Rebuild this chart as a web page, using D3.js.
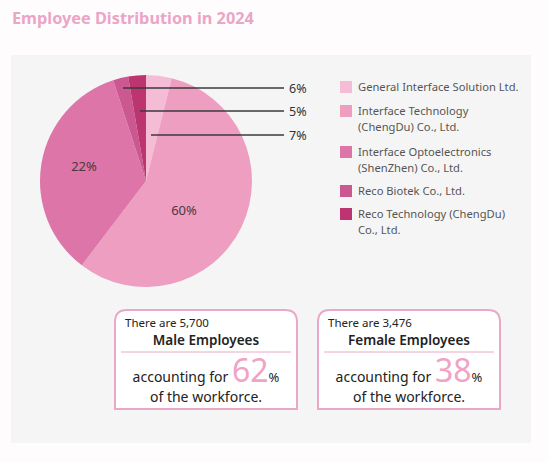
<!DOCTYPE html>
<html><head><meta charset="utf-8">
<script src="https://cdn.jsdelivr.net/npm/d3@7/dist/d3.min.js"></script>
<style>
html,body{margin:0;padding:0;background:#fefcfd;}
svg{display:block;font-family:"Noto Sans","Open Sans",sans-serif;}
</style></head>
<body>
<svg id="c" width="549" height="462"></svg>
<script>
const companies = ["General Interface Solution Ltd.","Interface Technology (ChengDu) Co., Ltd.","Interface Optoelectronics (ShenZhen) Co., Ltd.","Reco Biotek  Co., Ltd.","Reco Technology (ChengDu) Co., Ltd."];
const legendLines = [["General Interface Solution Ltd."],["Interface Technology","(ChengDu) Co., Ltd."],["Interface Optoelectronics","(ShenZhen) Co., Ltd."],["Reco Biotek  Co., Ltd."],["Reco Technology (ChengDu)","Co., Ltd."]];
// slice sizes as drawn in the picture (percent of circle)
const sliceValues = [3.9, 56.4, 34.6, 2.3, 2.7];
// printed labels
const sliceLabels = ["7%","60%","22%","6%","5%"];
const sliceColors = ["#f5bdd5","#ee9ec1","#dd75a8","#cb5890","#bd3570"];
const genders = ["Male Employees","Female Employees"];
const headcounts = ["5,700","3,476"];
const shares = [62, 38];

const svg = d3.select("#c");
svg.append("text").attr("x",12).attr("y",24).attr("fill","#eba5c6")
  .attr("font-size",16.3).attr("font-weight","bold").text("Employee Distribution in 2024");
svg.append("rect").attr("x",11).attr("y",55).attr("width",520).attr("height",388).attr("fill","#f5f5f5");

const cx=146, cy=181, R=106;
const pie = d3.pie().sort(null).value(d=>d);
const arcs = pie(sliceValues);
const arc = d3.arc().innerRadius(0).outerRadius(R);
const g = svg.append("g").attr("transform",`translate(${cx},${cy})`);
g.selectAll("path").data(arcs).join("path").attr("d",arc).attr("fill",(d,i)=>sliceColors[i]);

// inside labels
const inner = [{i:2, x:84, y:171},{i:1, x:184, y:215}];
inner.forEach(o=>{
  svg.append("text").attr("x",o.x).attr("y",o.y).attr("text-anchor","middle")
    .attr("font-size",13).attr("fill","#4a3a40").text(sliceLabels[o.i]);
});
// leader labels
const leaders = [{i:3, x0:123, y:88},{i:4, x0:140, y:111},{i:0, x0:151, y:135}];
leaders.forEach(o=>{
  svg.append("line").attr("x1",o.x0).attr("x2",284).attr("y1",o.y).attr("y2",o.y)
    .attr("stroke","#3a3a3a").attr("stroke-width",1.3);
  svg.append("text").attr("x",289).attr("y",o.y+4.5).attr("font-size",12.5).attr("fill","#333")
    .text(sliceLabels[o.i]);
});

// legend
const legY = [81,105,146,185,208];
legendLines.forEach((lines,i)=>{
  svg.append("rect").attr("x",340).attr("y",legY[i]).attr("width",12).attr("height",12).attr("fill",sliceColors[i]);
  lines.forEach((t,j)=>{
    svg.append("text").attr("x",358).attr("y",legY[i]+10+j*16).attr("font-size",11.2).attr("fill","#555").text(t);
  });
});

// boxes
const boxX=[115,318], bw=182, by=310, bh=99, r=12;
genders.forEach((gname,i)=>{
  const x=boxX[i];
  const p=`M${x},${by+bh} L${x},${by+r} Q${x},${by} ${x+r},${by} L${x+bw-r},${by} Q${x+bw},${by} ${x+bw},${by+r} L${x+bw},${by+bh} Z`;
  svg.append("path").attr("d",p).attr("fill","#fff").attr("stroke","#eba8c6").attr("stroke-width",2);
  svg.append("text").attr("x",x+10).attr("y",by+17).attr("font-size",11.5).attr("fill","#222").text("There are "+headcounts[i]);
  svg.append("text").attr("x",x+bw/2).attr("y",by+35).attr("text-anchor","middle").attr("font-size",13.5).attr("font-weight","600").attr("fill","#222").text(gname);
  svg.append("line").attr("x1",x+6).attr("x2",x+bw-6).attr("y1",by+42).attr("y2",by+42).attr("stroke","#eba8c6").attr("stroke-width",1);
  const t=svg.append("text").attr("x",x+bw/2).attr("y",by+72).attr("text-anchor","middle").attr("fill","#222");
  t.append("tspan").attr("font-size",14).text("accounting for ");
  t.append("tspan").attr("font-size",32).attr("fill","#f0a3c5").text(shares[i]);
  t.append("tspan").attr("font-size",13).text("%");
  svg.append("text").attr("x",x+bw/2).attr("y",by+92).attr("text-anchor","middle").attr("font-size",14).attr("fill","#222").text("of the workforce.");
});
</script>
</body></html>
